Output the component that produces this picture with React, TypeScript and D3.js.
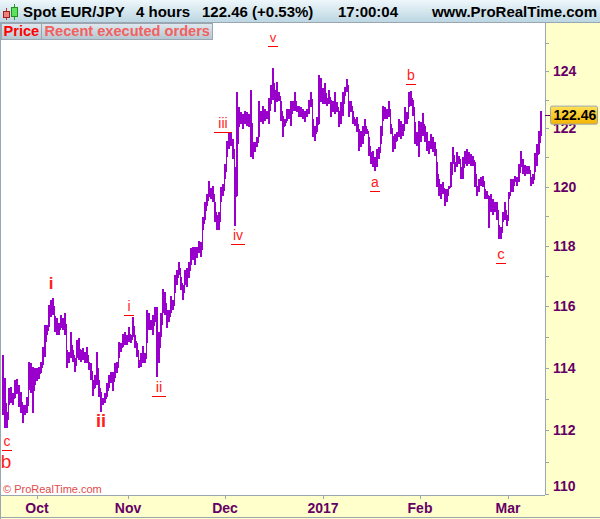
import React from "react";
import * as d3 from "d3";

const highs = [114.41,113.67,112.6,113.35,113.4,113.2,113.6,113.64,113.45,113.22,112.8,112.8,113.06,114.18,114.15,114.02,114.0,114.0,114.02,114.18,114.67,115.38,115.38,116.04,116.2,116.27,115.68,115.62,115.45,115.71,115.62,115.77,114.58,114.51,115.16,114.58,114.32,114.9,114.96,114.58,114.64,114.51,114.67,114.18,114.15,113.6,113.76,114.5,113.6,113.22,113.02,113.18,113.5,113.76,
113.86,113.86,114.15,114.18,114.83,114.8,115.09,115.16,115.06,115.32,115.06,115.66,115.06,114.8,114.25,114.48,114.7,114.48,115.9,115.77,115.55,115.71,115.98,115.98,115.16,115.8,116.57,116.47,115.87,115.87,116.34,116.21,117.04,117.2,117.47,116.97,116.7,117.2,117.27,117.47,117.93,117.97,117.97,117.97,118.17,118.14,118.99,119.47,119.75,
120.19,119.95,120.02,119.47,119.06,119.13,119.99,120.09,120.78,121.57,121.87,121.87,121.63,120.67,123.25,122.73,122.56,122.49,122.59,122.56,122.49,123.35,121.53,121.53,121.7,122.94,122.59,122.77,122.66,122.59,123.07,123.52,124.1,123.35,123.62,123.28,122.94,122.42,122.32,122.66,122.66,122.94,122.94,123.25,122.77,122.77,122.73,122.66,122.59,122.66,123.0,
123.25,122.32,122.08,122.39,123.86,123.76,123.42,123.59,123.07,123.35,123.0,122.94,123.25,122.9,122.59,122.9,123.28,123.45,123.73,122.94,122.94,122.59,122.32,122.39,121.98,121.91,122.08,122.32,121.98,121.7,121.19,121.22,121.02,121.29,121.36,122.08,122.77,122.73,122.66,122.94,122.15,121.74,121.81,121.87,122.32,122.25,122.15,122.73,122.56,123.25,123.31,123.0,122.22,121.87,122.25,
122.22,122.53,122.08,121.87,121.57,121.81,121.7,121.53,120.85,120.26,120.09,120.16,119.92,119.92,120.02,120.85,121.36,120.85,121.19,121.05,120.67,121.02,121.22,121.29,121.19,121.12,121.05,120.85,120.02,120.26,120.33,120.37,119.92,119.85,119.68,119.75,119.57,119.47,119.5,118.72,118.65,119.13,119.47,119.06,119.82,120.26,120.26,120.37,120.33,120.78,121.22,120.95,120.74,120.71,120.71,120.33,120.43,121.15,121.46,121.91,122.59];

const lows = [112.48,112.06,112.06,112.8,112.86,112.8,113.02,113.15,112.73,112.54,112.22,112.48,112.54,113.28,113.18,112.54,113.44,113.57,113.64,113.83,114.09,114.35,115.06,115.32,115.66,115.72,115.16,115.06,115.06,115.29,115.23,115.06,114.0,114.15,114.32,114.19,113.86,114.32,114.25,114.19,114.25,114.15,114.15,113.93,113.6,113.09,113.35,113.44,113.06,112.57,112.8,112.86,113.06,113.35,
113.5,113.27,113.67,113.83,114.32,114.5,114.67,114.74,114.74,114.83,114.8,115.0,114.64,114.35,114.0,114.02,114.15,114.15,114.8,115.23,115.23,115.06,115.48,113.7,114.15,115.0,115.77,115.72,115.29,115.48,115.77,115.88,116.44,116.7,117.04,116.54,116.2,116.7,116.64,116.93,117.37,117.54,117.37,117.6,117.77,117.64,118.55,118.89,119.34,
119.64,119.57,119.47,118.82,118.55,118.55,119.47,119.68,120.26,121.02,121.29,121.39,120.95,118.69,119.68,122.05,122.15,121.98,122.15,122.08,122.05,121.02,120.95,121.19,121.36,121.7,122.22,122.15,122.25,122.32,122.15,122.83,123.0,122.56,122.9,122.94,122.25,121.7,122.08,122.25,122.32,122.08,122.59,122.59,122.56,122.39,122.39,122.32,122.22,122.39,122.49,
122.73,121.7,121.57,121.87,122.15,122.9,122.83,122.83,122.77,122.83,122.39,122.56,122.49,122.56,122.05,122.15,122.42,123.11,123.25,122.39,122.56,122.15,122.08,121.87,121.22,121.36,121.46,121.81,121.81,121.05,120.78,120.67,120.54,120.67,120.95,121.46,122.25,122.32,122.32,122.39,121.81,121.19,121.29,121.57,121.7,121.63,121.74,122.15,122.15,122.73,122.77,122.42,121.46,121.39,121.02,
121.53,121.74,121.53,121.22,121.12,121.29,121.19,121.05,119.99,119.68,119.57,119.75,119.34,119.5,119.92,119.99,120.78,120.5,120.67,120.78,120.26,120.26,120.78,120.71,120.78,120.71,120.71,119.99,119.68,119.82,120.02,119.99,119.57,119.57,118.62,119.13,119.06,119.16,118.89,118.24,118.24,118.82,118.89,118.69,119.57,119.82,119.82,120.16,120.02,120.16,120.67,120.43,120.37,120.43,120.43,120.02,120.09,120.5,120.71,121.12,121.74];

const lastPrice = 122.46;
const priceTicks = [124, 122, 120, 118, 116, 114, 112, 110];
const minorTicks = [125, 123, 121, 119, 117, 115, 113, 111];

const monthLabels = ["Oct", "Nov", "Dec", "2017", "Feb", "Mar"];
const monthBarIndex = [17, 62.5, 111, 160, 208.5, 252.5];

const waveLabels = ["i", "ii", "c", "b", "i", "ii", "iii", "iv", "v", "a", "b", "c"];
const waveBarIndex = [24, 49, 2, 1.5, 63, 78, 110, 117.5, 135, 186, 204, 249];
const wavePrice = [116.56, 112.12, 111.5, 110.82, 115.84, 113.22, 122.03, 118.2, 125.03, 119.98, 123.7, 117.57];
const waveBold = [true, true, false, false, false, false, false, false, false, false, false, false];
const waveSize = [17, 18, 14, 19, 14, 15, 14, 14, 13, 14, 14, 15];
const waveUnderline = [false, false, true, false, true, true, true, true, true, true, true, true];

const W = 600;
const H = 519;
const plotRight = 545;
const plotBottom = 495;
const FONT = "'Liberation Sans', Arial, sans-serif";
const AXIS = "#660066";
const GREY = "#9aa7b3";
const PURPLE = "#9900cc";
const RED = "#ff2020";

export default function App() {
  const x = d3.scaleLinear().domain([0, highs.length - 1]).range([3, 541]);
  const y = d3.scaleLog().domain([110, 124]).range([494, 71]);
  const connector = d3
    .line<number>()
    .x((_, i) => x(i))
    .y((h, i) => y((h + lows[i]) / 2))
    .curve(d3.curveStep);

  return (
    <svg width={W} height={H} viewBox={`0 0 ${W} ${H}`} style={{ position: "absolute", left: 0, top: 0, display: "block" }} fontFamily={FONT}>
      <defs>
        <linearGradient id="hdr" x1="0" y1="0" x2="0" y2="1">
          <stop offset="0" stopColor="#eef7fb" />
          <stop offset="1" stopColor="#bcd6e2" />
        </linearGradient>
        <linearGradient id="tab" x1="0" y1="0" x2="0" y2="1">
          <stop offset="0" stopColor="#dfe8ee" />
          <stop offset="1" stopColor="#b4c6d0" />
        </linearGradient>
        <linearGradient id="gold" x1="0" y1="0" x2="0" y2="1">
          <stop offset="0" stopColor="#ffe257" />
          <stop offset="1" stopColor="#f5b400" />
        </linearGradient>
      </defs>
      <rect x={0} y={0} width={W} height={H} fill="#fff" />
      <rect x={plotRight} y={23} width={W - plotRight} height={H - 23} fill="#ffffcc" />
      <rect x={0} y={plotBottom} width={W} height={H - plotBottom} fill="#ffffcc" />
      <rect x={0} y={0} width={W} height={22} fill="url(#hdr)" />
      <line x1={0} x2={W} y1={22.5} y2={22.5} stroke={GREY} />
      <line x1={0.5} x2={0.5} y1={22} y2={H} stroke={GREY} />
      <line x1={plotRight + 0.5} x2={plotRight + 0.5} y1={22} y2={plotBottom} stroke={GREY} />
      <line x1={0} x2={plotRight} y1={plotBottom + 0.5} y2={plotBottom + 0.5} stroke={GREY} />
      <line x1={0} x2={W} y1={H - 1.5} y2={H - 1.5} stroke={GREY} />

      {/* candle icon */}
      <line x1={6.5} x2={6.5} y1={8} y2={20} stroke="#c03030" />
      <rect x={3.5} y={11.5} width={6} height={6} fill="#f08080" stroke="#a02020" />
      <line x1={14.5} x2={14.5} y1={4} y2={20} stroke="#20a020" />
      <rect x={11.5} y={7.5} width={6} height={9} fill="#60e060" stroke="#209020" />

      <g fontSize={15} fontWeight="bold" fill="#000">
        <text x={23} y={17}>Spot EUR/JPY</text>
        <text x={136} y={17}>4 hours</text>
        <text x={202} y={17}>122.46 (+0.53%)</text>
        <text x={338} y={17}>17:00:04</text>
        <text x={597} y={17} textAnchor="end">www.ProRealTime.com</text>
      </g>

      {/* legend tabs */}
      <rect x={1.5} y={23.5} width={40} height={16} fill="url(#tab)" stroke={GREY} />
      <rect x={41.5} y={23.5} width={171} height={16} fill="url(#tab)" stroke={GREY} />
      <text x={3.5} y={36} fontSize={14.6} fontWeight="bold" fill="#ff0000">Price</text>
      <text x={44.5} y={36} fontSize={14.6} fontWeight="bold" fill="#f26060">Recent executed orders</text>

      {/* price bars */}
      <path d={connector(highs) ?? ""} fill="none" stroke={PURPLE} strokeWidth={1} shapeRendering="crispEdges" />
      <g stroke={PURPLE} strokeWidth={2} shapeRendering="crispEdges">
        {highs.map((h, i) => (
          <line key={i} x1={x(i)} x2={x(i)} y1={y(h)} y2={y(lows[i])} />
        ))}
      </g>

      {/* wave labels */}
      {waveLabels.map((t, i) => {
        const cx = x(waveBarIndex[i]);
        const by = y(wavePrice[i]);
        const half = t.length * 2.2 + 2.4;
        return (
          <g key={i}>
            <text x={cx} y={by} textAnchor="middle" fontSize={waveSize[i]} fontWeight={waveBold[i] ? "bold" : "normal"} fill={RED}>{t}</text>
            {waveUnderline[i] && (
              <line x1={cx - half} x2={cx + half} y1={by + 4.5} y2={by + 4.5} stroke="#ff0000" strokeWidth={1} shapeRendering="crispEdges" />
            )}
          </g>
        );
      })}

      <text x={3} y={493} fontSize={11} fill="#e24a4a">© ProRealTime.com</text>

      {/* y axis */}
      {minorTicks.map((t) => (
        <line key={t} x1={plotRight} x2={plotRight + 4} y1={Math.round(y(t)) + 0.5} y2={Math.round(y(t)) + 0.5} stroke={GREY} />
      ))}
      {priceTicks.map((t) => (
        <g key={t}>
          <line x1={plotRight} x2={plotRight + 4} y1={Math.round(y(t)) + 0.5} y2={Math.round(y(t)) + 0.5} stroke={GREY} />
          <text x={553} y={t === 110 ? 491 : y(t) + 5} fontSize={14} fontWeight="bold" fill={AXIS}>{t}</text>
        </g>
      ))}
      <line x1={plotRight} x2={plotRight + 5} y1={Math.round(y(lastPrice)) + 0.5} y2={Math.round(y(lastPrice)) + 0.5} stroke={AXIS} />
      <rect x={550.5} y={y(lastPrice) - 9} width={47} height={18} rx={1.5} fill="url(#gold)" stroke={GREY} />
      <text x={553.5} y={y(lastPrice) + 5} fontSize={14} fontWeight="bold" fill="#000">{lastPrice.toFixed(2)}</text>

      {/* x axis */}
      {monthLabels.map((m, i) => (
        <g key={m}>
          <line x1={Math.round(x(monthBarIndex[i])) + 0.5} x2={Math.round(x(monthBarIndex[i])) + 0.5} y1={plotBottom} y2={plotBottom + 4} stroke={GREY} />
          <text x={x(monthBarIndex[i])} y={513} textAnchor="middle" fontSize={14} fontWeight="bold" fill={AXIS}>{m}</text>
        </g>
      ))}
    </svg>
  );
}
